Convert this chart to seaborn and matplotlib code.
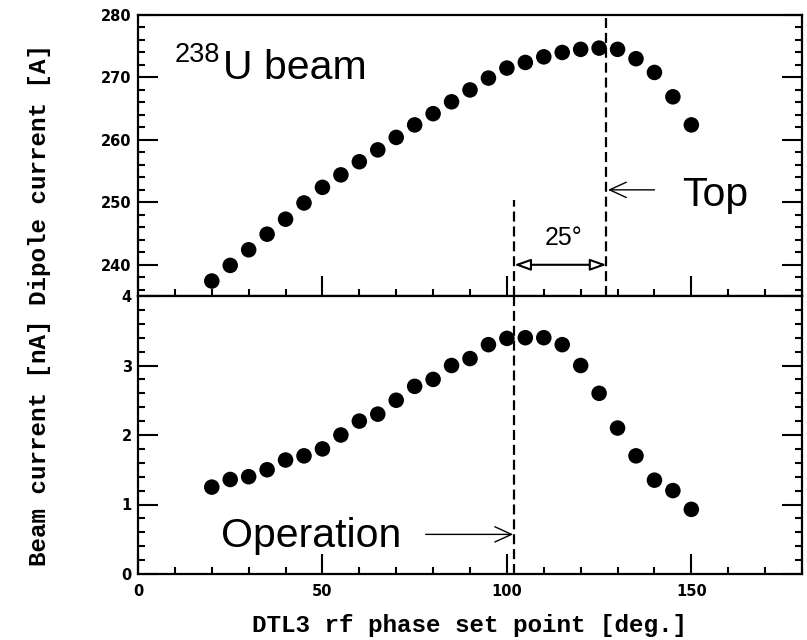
import matplotlib
matplotlib.use("Agg")
import matplotlib.pyplot as plt
import seaborn as sns
import pandas as pd
from matplotlib.patches import FancyArrowPatch
from matplotlib.ticker import MultipleLocator

# ---- data ----
phase = [20, 25, 30, 35, 40, 45, 50, 55, 60, 65, 70, 75, 80, 85, 90, 95,
         100, 105, 110, 115, 120, 125, 130, 135, 140, 145, 150]
dipole_current = [237.4, 239.9, 242.4, 244.9, 247.3, 249.9, 252.4, 254.4, 256.5,
                  258.4, 260.4, 262.4, 264.2, 266.1, 268.0, 269.9, 271.5, 272.4,
                  273.3, 274.0, 274.5, 274.7, 274.5, 273.0, 270.8, 266.9, 262.4]
beam_current = [1.25, 1.36, 1.40, 1.50, 1.64, 1.70, 1.80, 2.00, 2.20, 2.30, 2.50,
                2.70, 2.80, 3.00, 3.10, 3.30, 3.39, 3.40, 3.40, 3.30, 3.00, 2.60,
                2.10, 1.70, 1.35, 1.20, 0.93]
top_phase = 127
operation_phase = 102

df = pd.DataFrame({"phase": phase, "dipole": dipole_current, "beam": beam_current})

sns.set_style("white")
plt.rcParams["font.family"] = ["DejaVu Sans"]
plt.rcParams["text.color"] = "black"
plt.rcParams["axes.labelcolor"] = "black"
plt.rcParams["xtick.color"] = "black"
plt.rcParams["ytick.color"] = "black"
plt.rcParams["axes.edgecolor"] = "black"

W, H = 807, 640
fig = plt.figure(figsize=(W / 100, H / 100), dpi=100)
L, R = 138 / W, 802 / W
B, M, T = 1 - 574 / H, 1 - 296 / H, 1 - 15 / H
ax_top = fig.add_axes([L, M, R - L, T - M])
ax_bot = fig.add_axes([L, B, R - L, M - B])

for ax, col in ((ax_top, "dipole"), (ax_bot, "beam")):
    sns.scatterplot(data=df, x="phase", y=col, ax=ax, s=125, color="black",
                    edgecolor="none", linewidth=0, zorder=3)
    ax.set_xlim(0, 180)
    ax.xaxis.set_major_locator(MultipleLocator(50))
    ax.xaxis.set_minor_locator(MultipleLocator(10))
    ax.set_xlabel("")
    ax.set_ylabel("")
    for sp in ax.spines.values():
        sp.set_linewidth(1.6)
        sp.set_color("black")
    ax.tick_params(which="both", direction="in", left=True, right=True,
                   bottom=True, top=False, labelright=False, width=1.5,
                   color="black", labelcolor="black")
    ax.tick_params(which="major", length=14.5)
    ax.tick_params(which="minor", length=5)
    ax.tick_params(axis="y", pad=4.5)
    ax.tick_params(axis="x", pad=7)

ax_top.set_ylim(235, 280)
ax_top.yaxis.set_major_locator(MultipleLocator(10))
ax_top.yaxis.set_minor_locator(MultipleLocator(2))
ax_top.tick_params(labelbottom=False)

ax_bot.set_ylim(0, 4)
ax_bot.yaxis.set_major_locator(MultipleLocator(1))
ax_bot.yaxis.set_minor_locator(MultipleLocator(0.2))
for lab in ax_bot.get_xticklabels() + ax_bot.get_yticklabels() + ax_top.get_yticklabels():
    lab.set_fontweight("bold")
    lab.set_fontsize(10.5)

dash = (0, (4.5, 2.2))
ax_top.axvline(top_phase, ls=dash, lw=1.6, color="black", zorder=2)
ax_top.vlines(operation_phase, 235, 250.3, ls=dash, lw=1.6, color="black", zorder=2)
ax_bot.axvline(operation_phase, ls=dash, lw=1.6, color="black", zorder=2)

# 25 degree double arrow
arr = FancyArrowPatch((operation_phase, 240), (top_phase, 240),
                      arrowstyle="<|-|>,head_length=0.7,head_width=0.25",
                      mutation_scale=14, fc="white", ec="black", lw=1.5,
                      shrinkA=0, shrinkB=0, zorder=4)
ax_top.add_patch(arr)
ax_top.text(115.5, 243.1, "25°", ha="center", va="baseline", fontsize=18,
            family="Liberation Sans")

# Top annotation
ax_top.annotate("", xy=(top_phase + 0.4, 252), xytext=(140, 252),
                arrowprops=dict(arrowstyle="->,head_length=1.2,head_width=0.55",
                                mutation_scale=10, lw=1, color="black",
                                shrinkA=0, shrinkB=0))
ax_top.text(147.5, 249.4, "Top", ha="left", va="baseline", fontsize=29.5,
            family="Liberation Sans")

# 238U beam
ax_top.text(10, 272.4, "238", ha="left", va="baseline", fontsize=19.5,
            family="Liberation Sans")
ax_top.text(23, 269.7, "U beam", ha="left", va="baseline", fontsize=29.5,
            family="Liberation Sans")

# Operation annotation
ax_bot.annotate("", xy=(operation_phase - 0.3, 0.57), xytext=(78, 0.57),
                arrowprops=dict(arrowstyle="->,head_length=1.2,head_width=0.55",
                                mutation_scale=10, lw=1, color="black",
                                shrinkA=0, shrinkB=0))
ax_bot.text(22.6, 0.39, "Operation", ha="left", va="baseline", fontsize=29.5,
            family="Liberation Sans")

fig.text(470 / W, 1 - 632 / H, "DTL3 rf phase set point [deg.]", ha="center",
         va="baseline", fontsize=17.5, family="Liberation Mono", fontweight="bold")
fig.text(40 / W, 1 - 305 / H, "Beam current [nA] Dipole current [A]", ha="center",
         va="center", rotation=90, fontsize=17.5, family="Liberation Mono",
         fontweight="bold")

fig.savefig("out.png", dpi=100)
